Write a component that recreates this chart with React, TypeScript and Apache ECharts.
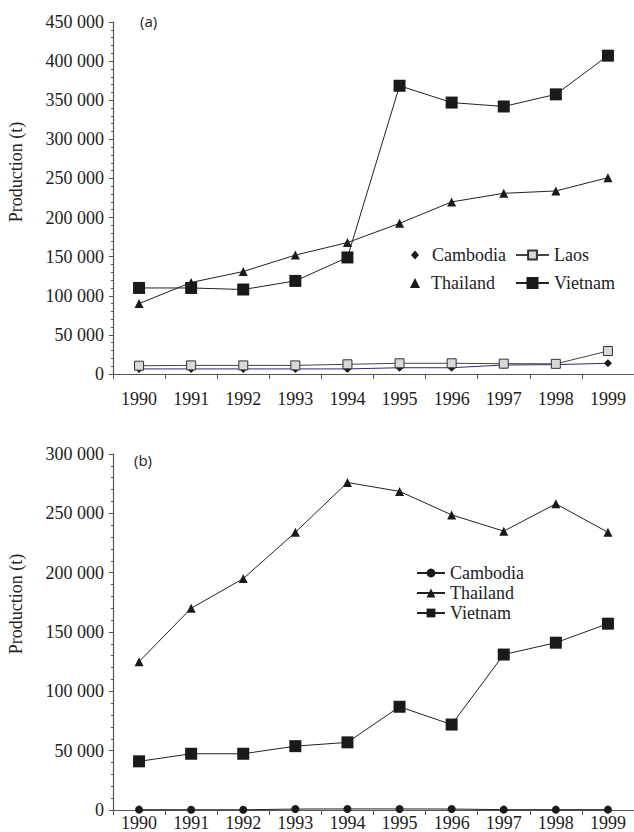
import React, { useEffect, useRef } from "react";
import * as echarts from "echarts";

const years = ["1990", "1991", "1992", "1993", "1994", "1995", "1996", "1997", "1998", "1999"];

// Panel (a)
const cambodiaA = [6500, 6500, 6500, 6500, 6500, 8000, 8000, 11500, 12000, 13700];
const laosA = [10600, 11000, 11000, 11000, 12400, 13700, 13700, 13200, 13000, 29400];
const thailandA = [90000, 117000, 131000, 152000, 168000, 192600, 220000, 231000, 234000, 251000];
const vietnamA = [110000, 110000, 108000, 119000, 149000, 368500, 347000, 342000, 357500, 407000];

// Panel (b)
const cambodiaB = [300, 200, 200, 800, 900, 900, 800, 300, 300, 300];
const thailandB = [125000, 170000, 195000, 234000, 276000, 268500, 248700, 235000, 258000, 234000];
const vietnamB = [41000, 47400, 47400, 53800, 57000, 87000, 72000, 131000, 141000, 157000];

const yLabelsA = ["0", "50 000", "100 000", "150 000", "200 000", "250 000", "300 000", "350 000", "400 000", "450 000"];
const yLabelsB = ["0", "50 000", "100 000", "150 000", "200 000", "250 000", "300 000"];

const SERIF = "'Liberation Serif', 'DejaVu Serif', serif";
const TXT = "#222";
const AX = "#555";

function xAxis(gridIndex: number, margin: number) {
  return {
    type: "category",
    gridIndex,
    data: years,
    boundaryGap: true,
    axisLine: { show: true, lineStyle: { color: AX, width: 1.2 } },
    axisTick: { show: true, length: 5, alignWithLabel: false, lineStyle: { color: AX } },
    axisLabel: { margin, fontFamily: SERIF, fontSize: 18, color: TXT, interval: 0 },
    splitLine: { show: false },
  };
}

function yAxis(gridIndex: number, max: number, labels: string[]) {
  return {
    type: "value",
    gridIndex,
    min: 0,
    max,
    interval: 50000,
    axisLine: { show: true, lineStyle: { color: AX, width: 1.2 } },
    axisTick: { show: true, length: 4, lineStyle: { color: AX } },
    minorTick: { show: true, splitNumber: 5, length: 2, lineStyle: { color: AX } },
    axisLabel: {
      margin: 9,
      fontFamily: SERIF,
      fontSize: 18,
      color: TXT,
      formatter: (v: number) => labels[Math.round(v / 50000)],
    },
    splitLine: { show: false },
    minorSplitLine: { show: false },
  };
}

function line(name: string, data: number[], idx: number, symbol: string, size: number, fill: string, lineColor: string, border?: string) {
  return {
    type: "line",
    name,
    data,
    xAxisIndex: idx,
    yAxisIndex: idx,
    symbol,
    symbolSize: size,
    showAllSymbol: true,
    lineStyle: { color: lineColor, width: 1 },
    itemStyle: border
      ? { color: fill, borderColor: border, borderWidth: 1 }
      : { color: fill },
    emphasis: { disabled: true },
  };
}

const legendText = { fontFamily: SERIF, fontSize: 18, color: TXT };

export default function App() {
  const ref = useRef<HTMLDivElement>(null);
  useEffect(() => {
    document.body.style.margin = "0";
    const chart = echarts.init(ref.current as HTMLDivElement, null, { renderer: "svg" });
    const option = {
      animation: false,
      backgroundColor: "#fff",
      grid: [
        { left: 113, top: 22, width: 524, height: 352 },
        { left: 113, top: 454, width: 524, height: 357 },
      ],
      xAxis: [xAxis(0, 16), xAxis(1, 4)],
      yAxis: [yAxis(0, 450000, yLabelsA), yAxis(1, 300000, yLabelsB)],
      legend: [
        {
          data: [{ name: "Cambodia", icon: "diamond" }],
          left: 411, top: 246, itemWidth: 8, itemHeight: 9, padding: 0,
          selectedMode: false, textStyle: { ...legendText, padding: [0, 0, 0, 8] },
        },
        {
          data: [{ name: "Thailand", icon: "triangle" }],
          left: 410, top: 274, itemWidth: 10, itemHeight: 10, padding: 0,
          selectedMode: false, textStyle: { ...legendText, padding: [0, 0, 0, 6] },
        },
        {
          data: ["Laos"],
          left: 515, top: 246, itemWidth: 33, itemHeight: 11, padding: 0,
          selectedMode: false, textStyle: legendText,
        },
        {
          data: ["Vietnam"],
          left: 515, top: 274, itemWidth: 33, itemHeight: 15, padding: 0,
          selectedMode: false, textStyle: legendText,
        },
        {
          data: ["Cambodia", "Thailand", "Vietnam"],
          orient: "vertical",
          left: 416, top: 564, itemWidth: 28, itemHeight: 11, itemGap: 2, padding: 0,
          selectedMode: false, textStyle: legendText,
        },
      ],
      series: [
        // panel (b) first so shared legend names inherit its styles
        line("Cambodia", cambodiaB, 1, "circle", 8, "#1a1a1a", "#222"),
        line("Thailand", thailandB, 1, "triangle", 9, "#1a1a1a", "#222"),
        line("Vietnam", vietnamB, 1, "rect", 12, "#1a1a1a", "#222"),
        // panel (a)
        line("Cambodia", cambodiaA, 0, "diamond", 8, "#1a1a1a", "#2b2b80"),
        line("Laos", laosA, 0, "rect", 9, "#d8d8d8", "#444", "#333"),
        line("Thailand", thailandA, 0, "triangle", 9, "#1a1a1a", "#222"),
        line("Vietnam", vietnamA, 0, "rect", 12, "#1a1a1a", "#222"),
      ],
      graphic: [
        {
          type: "text", x: 16, y: 172, rotation: Math.PI / 2,
          style: { text: "Production (t)", fontFamily: SERIF, fontSize: 18, fill: TXT, align: "center", verticalAlign: "middle" },
        },
        {
          type: "text", x: 16, y: 604, rotation: Math.PI / 2,
          style: { text: "Production (t)", fontFamily: SERIF, fontSize: 18, fill: TXT, align: "center", verticalAlign: "middle" },
        },
        {
          type: "text", x: 140, y: 21,
          style: { text: "(a)", fontFamily: "'Open Sans', sans-serif", fontSize: 15, fill: TXT, align: "left", verticalAlign: "middle" },
        },
        {
          type: "text", x: 134, y: 460,
          style: { text: "(b)", fontFamily: "'Open Sans', sans-serif", fontSize: 15, fill: TXT, align: "left", verticalAlign: "middle" },
        },
      ],
    };
    chart.setOption(option as any);
    return () => chart.dispose();
  }, []);
  return <div ref={ref} style={{ width: 634, height: 832 }} />;
}
